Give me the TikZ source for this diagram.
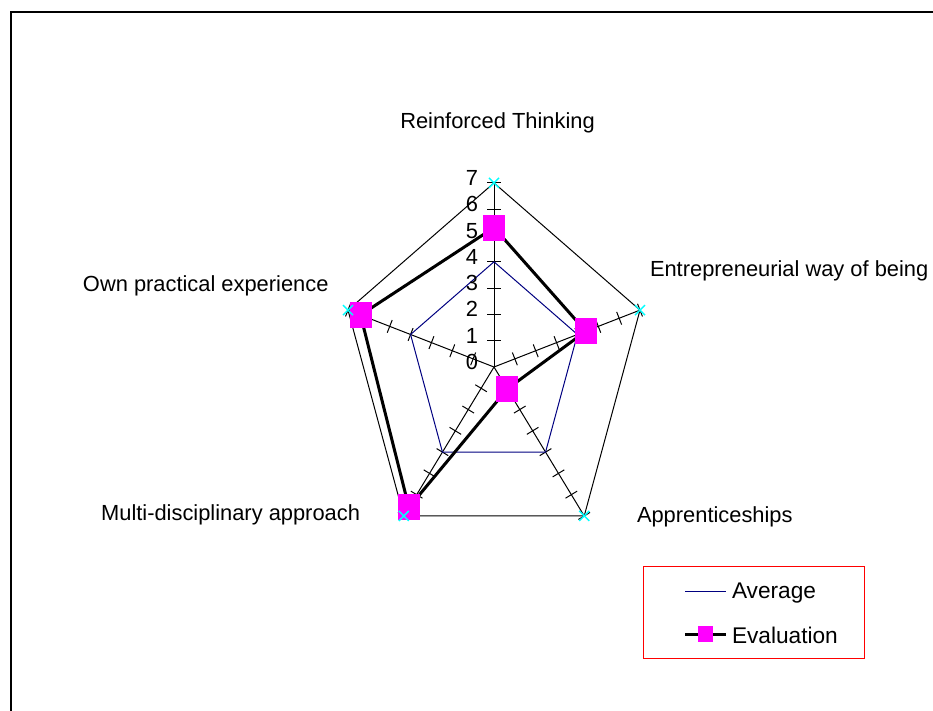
\documentclass[tikz,border=0pt]{standalone}
\usepackage{fontspec}
\setmainfont{Liberation Sans}
\usetikzlibrary{calc}
\definecolor{avgblue}{RGB}{0,0,128}
\definecolor{evalmag}{RGB}{255,0,255}
\definecolor{mkcyan}{RGB}{0,255,255}
\definecolor{legred}{RGB}{255,0,0}
\begin{document}
\begin{tikzpicture}[x=0.75pt,y=-0.75pt,
  lab/.style={font=\fontsize{16.4}{19}\selectfont, inner sep=0pt, outer sep=0pt},
  leglab/.style={font=\fontsize{17}{20}\selectfont, inner sep=0pt, outer sep=0pt},
  thin line/.style={line width=0.75pt},
  avgline/.style={avgblue, line width=0.75pt, line join=miter},
  evalline/.style={black, line width=2.25pt, line join=miter},
  evalmark/.style={fill=evalmag, draw=none, minimum width=16.5pt, minimum height=19.5pt, inner sep=0pt},
  xmark/.style={mkcyan, line width=1.1pt},
  tickline/.style={black, line width=0.75pt}]
\useasboundingbox (0,0) rectangle (933,711);
% frame
\draw[line width=1.5pt] (11,711) -- (11,12) -- (933,12);
\coordinate (C) at (494,367);
\begin{scope}[shift={(C)}, x=16.4475pt, y=19.725pt]
  \foreach \i/\a in {1/90,2/18,3/-54,4/-126,5/162} {
    \coordinate (O\i) at ({7*cos(\a)},{7*sin(\a)});
    \coordinate (V\i) at ({4*cos(\a)},{4*sin(\a)});
  }
  \foreach \i/\a/\v in {1/90/5.3,2/18/4.4,3/-54/1.03,4/-126/6.6,5/162/6.4} {
    \coordinate (E\i) at ({\v*cos(\a)},{\v*sin(\a)});
  }
\end{scope}
% axes and ticks
\foreach \i in {1,...,5} {
  \draw[thin line] (C) -- (O\i);
  \foreach \k in {1,...,7} {
    \coordinate (T) at ($(C)!\k/7!(O\i)$);
    \draw[tickline] ($(T)!5.1pt!90:(C)$) -- ($(T)!5.1pt!-90:(C)$);
  }
}
% outer pentagon
\draw[thin line, line join=miter] (O1) -- (O2) -- (O3) -- (O4) -- (O5) -- cycle;
% average
\draw[avgline] (V1) -- (V2) -- (V3) -- (V4) -- (V5) -- cycle;
% evaluation
\draw[evalline] (E1) -- (E2) -- (E3) -- (E4) -- (E5) -- cycle;
\foreach \i in {1,...,5} {
  \node[evalmark] (S\i) at (E\i) {};
}
% cyan x markers
\foreach \i in {1,...,5} {
  \draw[xmark] ($(O\i)+(-5,-5)$) -- ($(O\i)+(5,5)$);
  \draw[xmark] ($(O\i)+(-5,5)$) -- ($(O\i)+(5,-5)$);
}
% scale labels
\foreach \k in {0,...,7} {
  \node[lab, anchor=base east] (N\k) at ($(C)+(-16,{2.5-26.3*\k})$) {\k};
}
% category labels
\node[lab, anchor=base] (L1) at (497.5,128.5) {Reinforced Thinking};
\node[lab, anchor=base west] (L2) at (650,276) {Entrepreneurial way of being};
\node[lab, anchor=base west] (L3) at (637,522.5) {Apprenticeships};
\node[lab, anchor=base east] (L4) at (360,520.5) {Multi-disciplinary approach};
\node[lab, anchor=base east] (L5) at (328.5,291.5) {Own practical experience};
% legend
\node[draw=legred, line width=0.75pt, minimum width=165.75pt, minimum height=69pt, inner sep=0pt, anchor=north west] (LG) at (643,566) {};
\coordinate (LA1) at (685,591);
\coordinate (LA2) at (726,591);
\draw[avgline] (LA1) -- (LA2);
\coordinate (LE1) at (685,634);
\coordinate (LE2) at (726,634);
\draw[evalline] (LE1) -- (LE2);
\node[evalmark, minimum width=11.25pt, minimum height=12.4pt] (LS) at (705.5,634) {};
\node[leglab, anchor=base west] (TA) at (732,598) {Average};
\node[leglab, anchor=base west] (TE) at (732,643) {Evaluation};
\end{tikzpicture}
\end{document}
